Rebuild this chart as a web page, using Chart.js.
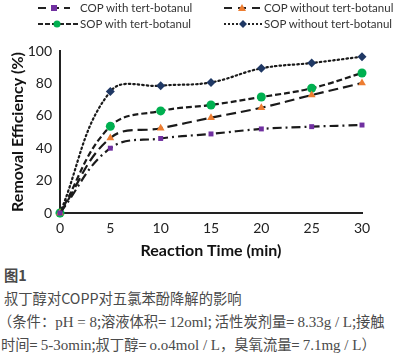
<!DOCTYPE html>
<html><head><meta charset="utf-8">
<script src="https://cdn.jsdelivr.net/npm/chart.js@4"></script>
<style>
html,body{margin:0;padding:0;background:#fff;}
#wrap{position:relative;width:400px;height:357px;overflow:hidden;}
#cv{position:absolute;left:0;top:0;}
.leg{position:absolute;font-family:"Lato",sans-serif;font-size:11.5px;color:#333;white-space:nowrap;line-height:14px;}
.leg svg{position:absolute;top:0;}
.cap{position:absolute;left:4px;font-family:"Noto Sans CJK SC",sans-serif;font-size:14.3px;color:#4a4a4a;white-space:nowrap;}
.num{font-family:"Liberation Serif",serif;font-size:15px;}
</style></head><body>
<div id="wrap">
<canvas id="cv" width="400" height="262"></canvas>
<div class="leg" style="left:36px;top:1px;"><svg width="40" height="14" style="left:0"><line x1="2" y1="7" x2="34" y2="7" stroke="#222" stroke-width="2" stroke-dasharray="8,5"/><rect x="15" y="4" width="6" height="6" fill="#7030A0"/></svg><span style="margin-left:44px">COP with tert-botanul</span></div>
<div class="leg" style="left:222px;top:1px;"><svg width="40" height="14" style="left:0"><line x1="2" y1="7" x2="38" y2="7" stroke="#222" stroke-width="2" stroke-dasharray="8,6"/><polygon points="16,10 20,3 24,10" fill="#ED7D31"/></svg><span style="margin-left:42px">COP without tert-botanul</span></div>
<div class="leg" style="left:36px;top:17px;"><svg width="44" height="14" style="left:0"><line x1="2" y1="7" x2="42" y2="7" stroke="#222" stroke-width="2" stroke-dasharray="5,2"/><circle cx="21" cy="7" r="3.5" fill="#00B050"/></svg><span style="margin-left:44px">SOP with tert-botanul</span></div>
<div class="leg" style="left:222px;top:17px;"><svg width="42" height="14" style="left:0"><line x1="2" y1="7" x2="40" y2="7" stroke="#222" stroke-width="2" stroke-dasharray="2,2"/><polygon points="21,3 25,7 21,11 17,7" fill="#1F3864"/></svg><span style="margin-left:42px">SOP without tert-botanul</span></div>
<div class="cap" style="top:264px;font-weight:bold;">图1</div>
<div class="cap" style="top:287px;">叔丁醇对COPP对五氯苯酚降解的影响</div>
<div class="cap" style="top:310px;left:-2px;">（条件：<span class="num">pH = 8</span>;溶液体积= <span class="num">12oml</span>; 活性炭剂量= <span class="num">8.33g / L</span>;接触</div>
<div class="cap" style="top:333px;left:1px;">时间= <span class="num">5-3omin</span>;叔丁醇= <span class="num">o.o4mol / L</span>，臭氧流量= <span class="num">7.1mg / L</span>）</div>
</div>
<script>
const times = [0, 5, 10, 15, 20, 25, 30];
const copWith = [0, 40, 46, 48.8, 51.9, 53.3, 54.3];
const copWithout = [0, 46.3, 52.3, 58.8, 65, 72.8, 80.2];
const sopWith = [0, 53.5, 63, 66.7, 71.6, 77, 86.4];
const sopWithout = [0, 75, 78.6, 80.6, 89.3, 92.6, 96.5];
const seriesNames = ['COP with tert-botanul','COP without tert-botanul','SOP with tert-botanul','SOP without tert-botanul'];
const xTicks = [0,5,10,15,20,25,30];
const yTicks = [0,20,40,60,80,100];

function pts(arr){return times.map((t,i)=>({x:t,y:arr[i]}));}
function ds(label, arr, dash, pstyle, color, r, cap){
  return {label, data:pts(arr), borderColor:'#1a1a1a', borderWidth:2.2, borderDash:dash,
    borderCapStyle:cap||'butt', tension:0.4, pointStyle:pstyle, pointRadius:r,
    pointBackgroundColor:color, pointBorderColor:color, pointBorderWidth:0, fill:false, clip:false};
}
new Chart(document.getElementById('cv'), {
  type:'line',
  data:{datasets:[
    ds(seriesNames[0], copWith, [9,4,2,4], 'rect', '#7030A0', 3.5),
    ds(seriesNames[1], copWithout, [10,5], 'triangle', '#ED7D31', 4.5),
    ds(seriesNames[2], sopWith, [6,3], 'circle', '#00B050', 4.5),
    ds(seriesNames[3], sopWithout, [1.5,3], 'rectRot', '#1F3864', 4.5, 'round')
  ]},
  options:{
    responsive:false, animation:false, devicePixelRatio:1,
    layout:{padding:{left:0,right:38,top:51,bottom:0}},
    plugins:{legend:{display:false},tooltip:{enabled:false}},
    scales:{
      x:{type:'linear', min:0, max:30,
        afterBuildTicks:(s)=>{s.ticks=xTicks.map(v=>({value:v}));},
        afterFit:(s)=>{s.height=49;},
        grid:{display:false, drawTicks:false},
        border:{display:true,color:'#222',width:2},
        ticks:{color:'#222',font:{family:'Lato',size:14},padding:7},
        title:{display:true,text:'Reaction Time (min)',color:'#111',font:{family:'Lato',size:16,weight:'bold'},padding:{top:0,bottom:2}}
      },
      y:{min:0,max:100,
        afterBuildTicks:(s)=>{s.ticks=yTicks.map(v=>({value:v}));},
        afterFit:(s)=>{s.width=60;},
        grid:{display:false, drawTicks:false},
        border:{display:true,color:'#222',width:2},
        ticks:{color:'#222',font:{family:'Lato',size:14},padding:8},
        title:{display:true,text:'Removal Efficiency (%)',color:'#111',font:{family:'Lato',size:16,weight:'bold'},padding:{top:8,bottom:0}}
      }
    }
  }
});
</script>
</body></html>
